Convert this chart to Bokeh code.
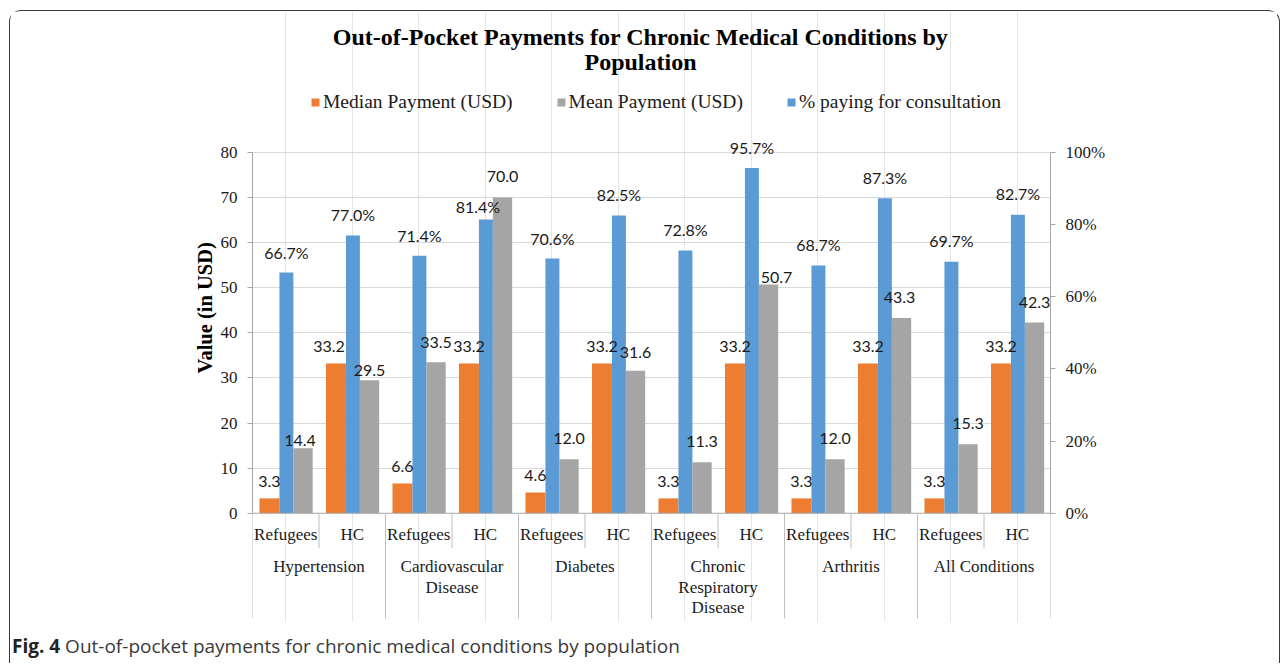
import math
from bokeh.plotting import figure
from bokeh.models import (FactorRange, Range1d, LinearAxis, FixedTicker, ColumnDataSource,
                          Legend, LegendItem, Div, PrintfTickFormatter, Title)
from bokeh.layouts import column
from bokeh.transform import dodge
from bokeh.core.properties import value
from bokeh.embed import file_html
from bokeh.resources import INLINE

# ---------------- data ----------------
conditions = ["Hypertension", "Cardiovascular\nDisease", "Diabetes",
              "Chronic\nRespiratory\nDisease", "Arthritis", "All Conditions"]
populations = ["Refugees", "HC"]

median_refugees = [3.3, 6.6, 4.6, 3.3, 3.3, 3.3]
median_hc = [33.2, 33.2, 33.2, 33.2, 33.2, 33.2]
mean_refugees = [14.4, 33.5, 12.0, 11.3, 12.0, 15.3]
mean_hc = [29.5, 70.0, 31.6, 50.7, 43.3, 42.3]
pct_refugees = [66.7, 71.4, 70.6, 72.8, 68.7, 69.7]
pct_hc = [77.0, 81.4, 82.5, 95.7, 87.3, 82.7]

left_ticks = [0, 10, 20, 30, 40, 50, 60, 70, 80]
right_ticks = [0, 20, 40, 60, 80, 100]

title_text = "Out-of-Pocket Payments for Chronic Medical Conditions by\nPopulation"
series_names = ["Median Payment (USD)", "Mean Payment (USD)", "% paying for consultation"]
y_title = "Value (in USD)"
caption_bold = "Fig. 4"
caption_text = "Out-of-pocket payments for chronic medical conditions by population"

# ---------------- label placement (pixels, style only) ----------------
# distance of each data label above its bar, and sideways nudges, in bar order
median_lift = [17] * 12
median_dx = [0, -7, 0, 0, 0, 0, 0, 0, 0, 0, 0, 0]
mean_lift = [8, 10, 20, 21, 21, 18, 21, 7, 21, 20, 21, 20]
mean_dx = [-3, 0, 0, 0, 0, 0, 0, 8, 0, -2, 0, 0]
pct_lift = [20, 21, 20, 13, 20, 21, 21, 20, 21, 21, 21, 21]
pct_dx = [0, 0, 0, -8, 0, 0, 0, 0, 0, 0, 0, 0]

# ---------------- build table ----------------
x, med, mea, pct, pop = [], [], [], [], []
for i, c in enumerate(conditions):
    for p_ in populations:
        x.append((c, p_))
        pop.append(p_)
        if p_ == "Refugees":
            med.append(median_refugees[i]); mea.append(mean_refugees[i]); pct.append(pct_refugees[i])
        else:
            med.append(median_hc[i]); mea.append(mean_hc[i]); pct.append(pct_hc[i])

src = ColumnDataSource(dict(
    x=x, pop=pop, median=med, mean=mea, pct=pct,
    median_lbl=[f"{v:.1f}" for v in med],
    mean_lbl=[f"{v:.1f}" for v in mea],
    pct_lbl=[f"{v:.1f}%" for v in pct],
    med_dy=[-v for v in median_lift], med_dx=median_dx,
    mea_dy=[-v for v in mean_lift], mea_dx=mean_dx,
    pct_dy=[-v for v in pct_lift], pct_dx=pct_dx,
))
grp_src = ColumnDataSource(dict(
    x=[(c, "Refugees") for c in conditions],
    name=conditions,
    hc=[(c, "HC") for c in conditions],
))
last_src = ColumnDataSource(dict(x=[(conditions[-1], "HC")]))

# ---------------- style ----------------
ORANGE, GREY, BLUE = "#ED7D31", "#A5A5A5", "#5B9BD5"
AXIS_C, GRID_C, SEP_C = "#A6A6A6", "#D9D9D9", "#BFBFBF"
SERIF = "Liberation Serif"
Y_MIN, Y_MAX = -24, 111.25
PCT_SCALE = 100 / 80

p = figure(width=1267, height=620,
           x_range=FactorRange(*x, factor_padding=0, group_padding=0, range_padding=0),
           y_range=Range1d(Y_MIN, Y_MAX),
           x_axis_location=None,
           output_backend="svg", toolbar_location=None,
           min_border_left=242, min_border_right=227, min_border_top=0, min_border_bottom=10)
p.extra_y_ranges = {"pct": Range1d(Y_MIN * PCT_SCALE, Y_MAX * PCT_SCALE)}
p.outline_line_color = None
p.background_fill_color = "white"
p.border_fill_color = "white"

# left axis
ya = p.yaxis[0]
ya.bounds = (0, 80)
ya.ticker = FixedTicker(ticks=left_ticks)
ya.minor_tick_line_color = None
ya.major_tick_in = 0
ya.major_tick_out = 5
ya.major_tick_line_color = AXIS_C
ya.axis_line_color = AXIS_C
ya.major_label_text_font = SERIF
ya.major_label_text_font_size = "17px"
ya.major_label_text_color = "#1a1a1a"
ya.major_label_standoff = 10

# y axis title
p.add_layout(Title(text=y_title, align="left", offset=248, standoff=3,
                   text_font=SERIF, text_font_size="20.5px", text_font_style="bold",
                   text_color="#000000"), "left")

p.ygrid.ticker = FixedTicker(ticks=left_ticks[1:])
p.ygrid.grid_line_color = GRID_C
p.ygrid.bounds = (0, 80)

# right axis
ra = LinearAxis(y_range_name="pct", bounds=(0, 100),
                ticker=FixedTicker(ticks=right_ticks),
                formatter=PrintfTickFormatter(format="%d%%"))
ra.minor_tick_line_color = None
ra.major_tick_in = 0
ra.major_tick_out = 5
ra.major_tick_line_color = AXIS_C
ra.axis_line_color = AXIS_C
ra.major_label_text_font = SERIF
ra.major_label_text_font_size = "17px"
ra.major_label_text_color = "#1a1a1a"
ra.major_label_standoff = 10
p.add_layout(ra, "right")

# bars
r_med = p.vbar(x=dodge("x", -0.245, range=p.x_range), top="median", width=0.30,
               source=src, fill_color=ORANGE, line_color=None)
r_pct = p.vbar(x=dodge("x", 0.01, range=p.x_range), top="pct", width=0.21,
               source=src, fill_color=BLUE, line_color=None, y_range_name="pct")
r_mea = p.vbar(x=dodge("x", 0.26, range=p.x_range), top="mean", width=0.29,
               source=src, fill_color=GREY, line_color=None)

# data labels
lbl_kw = dict(source=src, text_align="center", text_baseline="middle",
              text_font=value("Lato"), text_font_size="16px", text_color="#1a1a1a")
p.text(x=dodge("x", -0.245, range=p.x_range), y="median", text="median_lbl",
       x_offset="med_dx", y_offset="med_dy", **lbl_kw)
p.text(x=dodge("x", 0.26, range=p.x_range), y="mean", text="mean_lbl",
       x_offset="mea_dx", y_offset="mea_dy", **lbl_kw)
p.text(x=dodge("x", 0.01, range=p.x_range), y="pct", text="pct_lbl", y_range_name="pct",
       x_offset="pct_dx", y_offset="pct_dy", **lbl_kw)

# category axis (drawn below the zero line)
p.segment(x0=0, x1=len(x), y0=0, y1=0, line_color=AXIS_C, line_width=1)
p.segment(x0=dodge("hc", -0.5, range=p.x_range), x1=dodge("hc", -0.5, range=p.x_range),
          y0=0, y1=-7.8, source=grp_src, line_color=SEP_C, line_width=1)
p.segment(x0=dodge("x", -0.5, range=p.x_range), x1=dodge("x", -0.5, range=p.x_range),
          y0=0, y1=-23.3, source=grp_src, line_color=SEP_C, line_width=1)
p.segment(x0=dodge("x", 0.5, range=p.x_range), x1=dodge("x", 0.5, range=p.x_range),
          y0=0, y1=-23.3, source=last_src, line_color=SEP_C, line_width=1)
p.text(x="x", y=-4.7, text="pop", source=src, text_align="center", text_baseline="middle",
       text_font=value(SERIF), text_font_size="17px", text_color="#1a1a1a")
p.text(x=dodge("x", 0.5, range=p.x_range), y=-9.8, text="name", source=grp_src,
       text_align="center", text_baseline="top", text_line_height=1.07,
       text_font=value(SERIF), text_font_size="17px", text_color="#1a1a1a")

# chart title (inside the top of the frame)
p.text(x=[len(x) / 2], y=[102.9], text=[title_text], x_offset=-11,
       text_align="center", text_baseline="middle", text_line_height=0.97,
       text_font=value(SERIF), text_font_size="24px", text_font_style="bold",
       text_color="#000000")

# legend
legend = Legend(items=[LegendItem(label=series_names[0], renderers=[r_med]),
                       LegendItem(label=series_names[1], renderers=[r_mea]),
                       LegendItem(label=series_names[2], renderers=[r_pct])],
                orientation="horizontal", location=(58, 508),
                glyph_width=10, glyph_height=10, label_standoff=3, spacing=43,
                padding=0, margin=0, border_line_color=None, background_fill_alpha=0,
                label_text_font=SERIF, label_text_font_size="19.5px", label_text_color="#1a1a1a")
p.add_layout(legend, "center")

caption = Div(
    text=(f'<span style="font-family:\'Open Sans\';font-size:19px;color:#3a3a3a;white-space:nowrap">'
          f'<b style="color:#222">{caption_bold}</b> {caption_text}</span>'),
    width=1267, height=30, margin=(2, 0, 0, 2))

layout = column(p, caption, margin=(10, 0, 0, 9),
                styles={"border-top": "1.3px solid #3a3a3a",
                        "border-left": "1.3px solid #3a3a3a",
                        "border-right": "1.3px solid #3a3a3a",
                        "border-top-left-radius": "12px",
                        "border-top-right-radius": "12px",
                        "background": "white"})

open("out.html", "w").write(file_html(layout, INLINE))
